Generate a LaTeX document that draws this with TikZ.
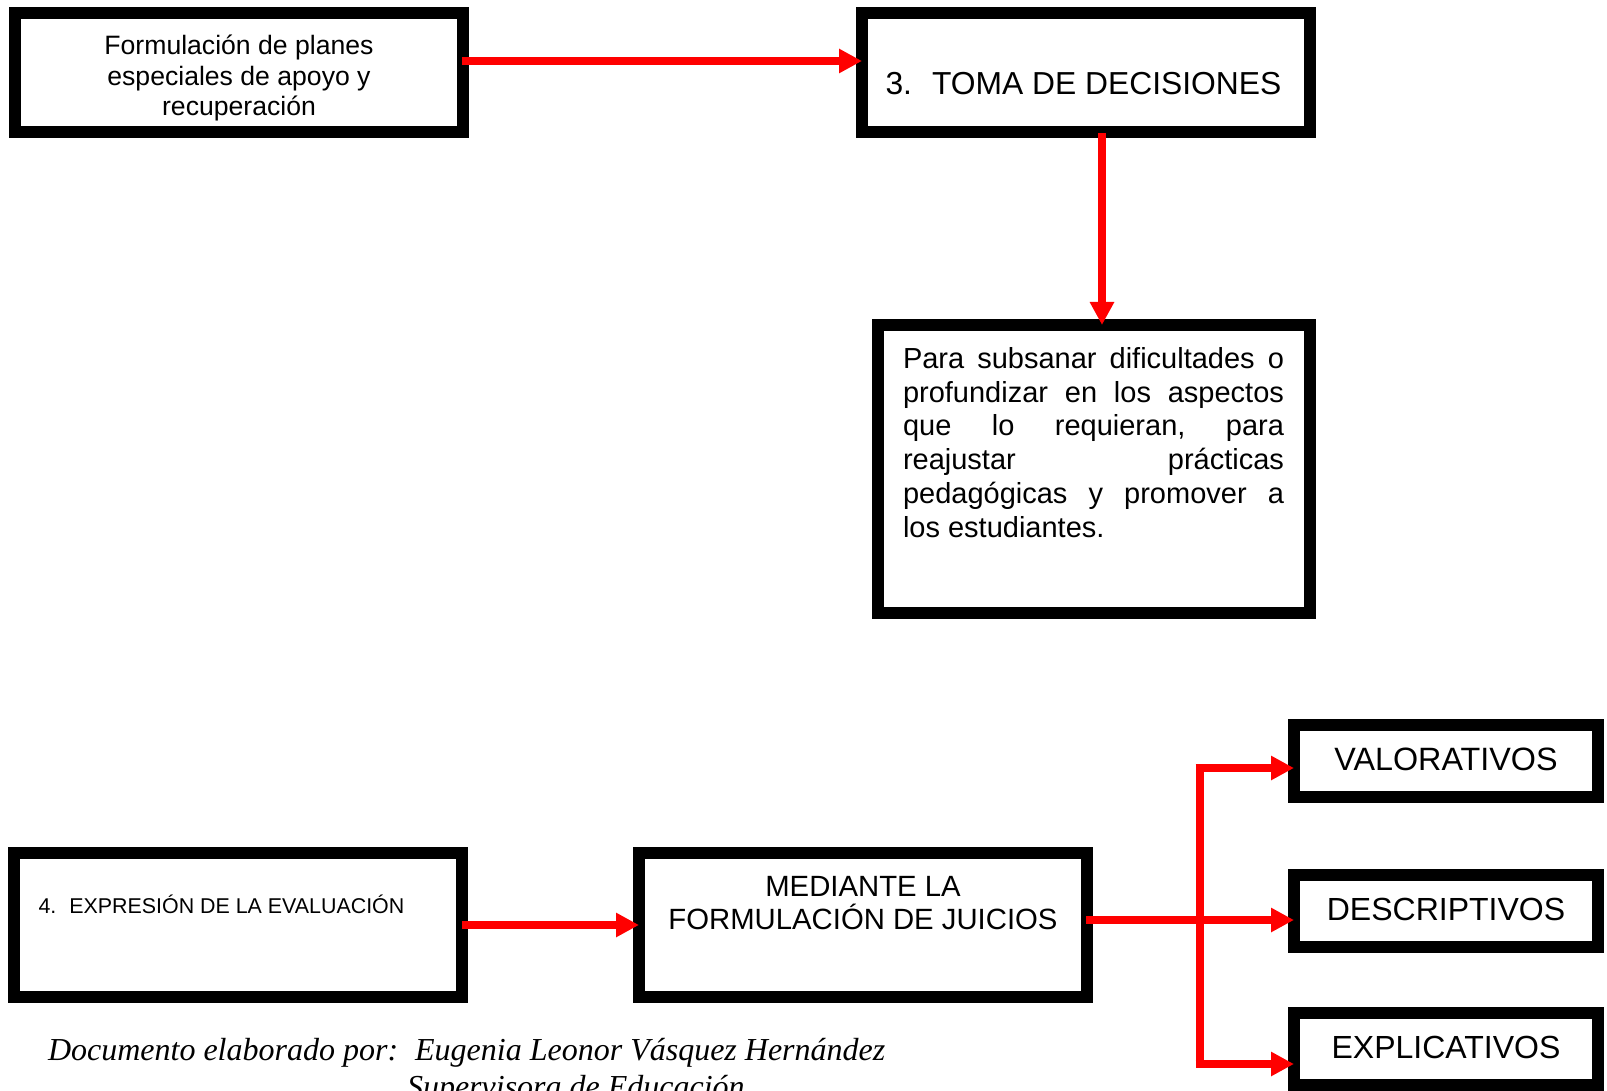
\documentclass[tikz,border=0pt]{standalone}
\usepackage{fontspec}
\setmainfont{Liberation Sans}
\newfontfamily\footfont{Liberation Serif}
\usetikzlibrary{arrows.meta}

\tikzset{
  box/.style={draw=black, line width=12pt, inner sep=0pt, outer sep=0pt, fill=white},
  txt/.style={inner sep=0pt, outer sep=0pt, text=black},
  redline/.style={draw=red, line width=8pt},
  arr/.style={redline, -{Triangle[length=23pt,width=23pt]}},
}

\begin{document}
\begin{tikzpicture}[x=1pt, y=-1pt]
\useasboundingbox (0,0) rectangle (1607,1091);

% ---- boxes ----
\node[box, minimum width=448pt, minimum height=119pt] (F) at (239,72.5) {};
\node[box, minimum width=448pt, minimum height=119pt] (T) at (1086,72.5) {};
\node[box, minimum width=432pt, minimum height=288pt] (P) at (1094,469) {};
\node[box, minimum width=448pt, minimum height=144pt] (E) at (238,925) {};
\node[box, minimum width=448pt, minimum height=144pt] (M) at (863,925) {};
\node[box, minimum width=304pt, minimum height=72pt] (V) at (1446,761) {};
\node[box, minimum width=304pt, minimum height=72pt] (D) at (1446,910.5) {};
\node[box, minimum width=304pt, minimum height=72pt] (X) at (1446,1049) {};

% ---- texts ----
\node[txt, anchor=base] (Ftxt) at (239,54.5)
  {\parbox[t]{440pt}{\centering\fontsize{26.6}{30.6}\selectfont
   Formulación de planes\\especiales de apoyo y\\recuperación}};
\node[txt, anchor=base west] (Ttxt) at (885.5,95)
  {\fontsize{31.8}{38}\selectfont 3.\hspace{20pt}TOMA DE DECISIONES};
\node[txt, anchor=base west] (Ptxt) at (903,368.3)
  {\parbox[t]{381pt}{\fontsize{29}{33.8}\selectfont
   \hbox to 381pt{Para\hfill subsanar\hfill dificultades\hfill o}
   \hbox to 381pt{profundizar\hfill en\hfill los\hfill aspectos}
   \hbox to 381pt{que\hfill lo\hfill requieran,\hfill para}
   \hbox to 381pt{reajustar\hfill prácticas}
   \hbox to 381pt{pedagógicas\hfill y\hfill promover\hfill a}
   \hbox{los estudiantes.}}};
\node[txt, anchor=base west] (Etxt) at (38.5,913)
  {\fontsize{21.4}{25}\selectfont 4.\hspace{13pt}EXPRESIÓN DE LA EVALUACIÓN};
\node[txt, anchor=base] (Mtxt) at (863,896)
  {\parbox[t]{440pt}{\centering\fontsize{29.3}{33}\selectfont
   MEDIANTE LA\\FORMULACIÓN DE JUICIOS}};
\node[txt, anchor=base] (Vtxt) at (1446,770) {\fontsize{32.3}{38}\selectfont VALORATIVOS};
\node[txt, anchor=base] (Dtxt) at (1446,920) {\fontsize{32}{38}\selectfont DESCRIPTIVOS};
\node[txt, anchor=base] (Xtxt) at (1446,1058) {\fontsize{32}{38}\selectfont EXPLICATIVOS};

% ---- author line ----
\node[txt, anchor=base west] (auth) at (48,1060.7)
  {\footfont\itshape\fontsize{32}{36.5}\selectfont
   Documento elaborado por:\hspace{17pt}Eugenia Leonor Vásquez Hernández};
\node[txt, anchor=base west] (role) at (407,1097)
  {\footfont\itshape\fontsize{32}{36.5}\selectfont Supervisora de Educación};

% ---- connectors ----
\coordinate (aOut) at ([yshift=11.5pt]F.east);
\draw[arr] ([xshift=-1pt]aOut) -- (T.west |- aOut);

\coordinate (dOut) at ([xshift=16pt]T.south);
\draw[arr] ([yshift=-1pt]dOut) -- (dOut |- P.north);

\draw[arr] (E.east) -- (M.west);

\coordinate (mOut) at ([yshift=5pt]M.east);
\draw[arr] ([xshift=-1pt]mOut) -- (D.west |- mOut);

\coordinate (jTop) at (1199.5,768);
\coordinate (jBot) at (1199.5,1064);
\draw[redline] ([yshift=4pt]jTop) -- ([yshift=-4pt]jBot);
\draw[arr] ([xshift=-4pt]jTop) -- (V.west |- jTop);
\draw[arr] ([xshift=-4pt]jBot) -- (X.west |- jBot);
\end{tikzpicture}
\end{document}
